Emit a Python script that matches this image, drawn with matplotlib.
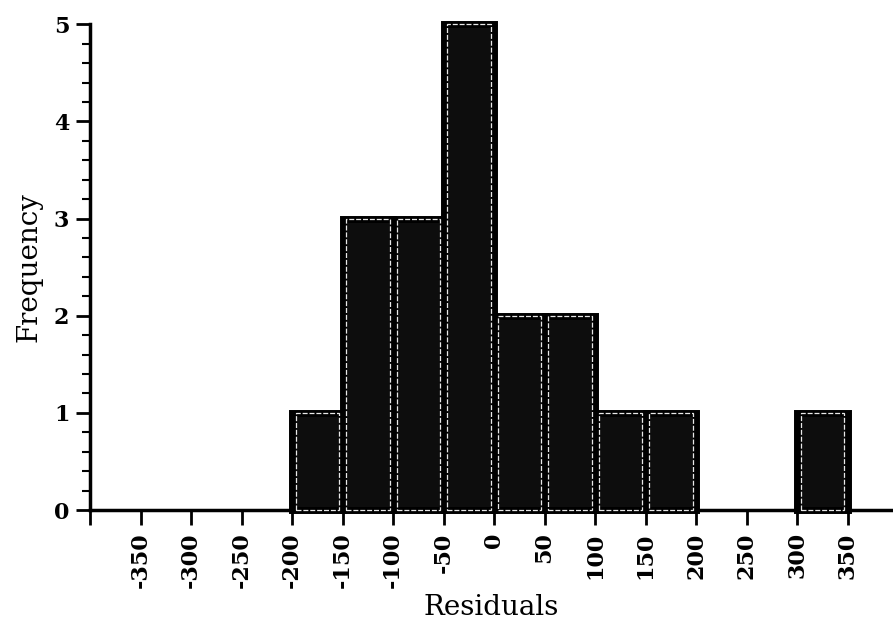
import matplotlib
matplotlib.use("Agg")
import matplotlib.pyplot as plt
from matplotlib.ticker import MultipleLocator

# histogram bins (left edge) and counts
bin_left = [-200, -150, -100, -50, 0, 50, 100, 150, 300]
counts = [1, 3, 3, 5, 2, 2, 1, 1, 1]
bin_width = 50

x_ticks = [-400, -350, -300, -250, -200, -150, -100, -50, 0, 50, 100, 150, 200, 250, 300, 350]
x_labels = [""] + [str(t) for t in x_ticks[1:]]
y_ticks = [0, 1, 2, 3, 4, 5]

plt.rcParams['font.family'] = ['DejaVu Serif']

fig = plt.figure(figsize=(8.93, 6.22), dpi=100)
ax = fig.add_axes([0.101, 0.18, 0.899, 0.781])

# dark bars with a thick black rim
outer = ax.bar(bin_left, counts, width=bin_width, align='edge',
               color='#0d0d0d', edgecolor='black', linewidth=5, zorder=2)
# faint white inner outline as in the scanned figure
inner = ax.bar(bin_left, counts, width=bin_width * 0.86, align='edge',
               fill=False, edgecolor='#e8e8e8', linewidth=0.9,
               linestyle=(0, (4, 1.5)), zorder=3)
for p in inner:
    p.set_x(p.get_x() + bin_width * 0.07)
for p in list(outer) + list(inner):
    p.set_clip_on(False)

ax.set_xlim(-400, 395)
ax.set_ylim(0, 5)

ax.set_xticks(x_ticks)
ax.set_xticklabels(x_labels, rotation=90, fontsize=16, fontweight='bold')
ax.set_yticks(y_ticks)
ax.set_yticklabels([str(t) for t in y_ticks], fontsize=16, fontweight='bold')
ax.yaxis.set_minor_locator(MultipleLocator(0.2))

ax.tick_params(axis='x', direction='out', length=11, width=2, pad=5)
ax.tick_params(axis='y', which='major', direction='out', length=10, width=2, pad=5)
ax.tick_params(axis='y', which='minor', direction='out', length=6, width=1.5)

for side in ['top', 'right']:
    ax.spines[side].set_visible(False)
ax.spines['left'].set_linewidth(2.5)
ax.spines['bottom'].set_linewidth(2.5)

ax.set_xlabel('Residuals', fontsize=20, labelpad=4)
ax.set_ylabel('Frequency', fontsize=20, labelpad=8)

fig.savefig('out.png', dpi=100)
